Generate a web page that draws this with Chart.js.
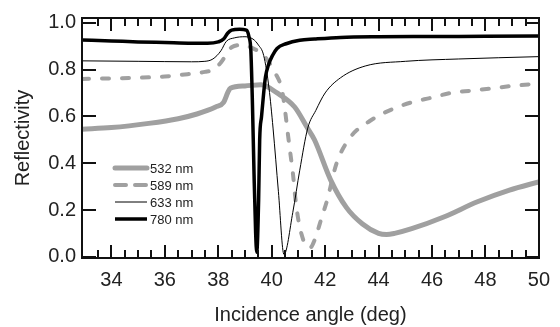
<!DOCTYPE html>
<html>
<head>
<meta charset="utf-8">
<title>Reflectivity vs incidence angle</title>
<script src="https://cdn.jsdelivr.net/npm/chart.js@4.4.0/dist/chart.umd.min.js"></script>
<style>
    html, body { margin: 0; padding: 0; background: #fff; }
    #wrap { width: 560px; height: 327px; }
</style>
</head>
<body>
<div id="wrap"><canvas id="chart" width="560" height="327"></canvas></div>
<script>
// Tick labels
const angleTicks = [34, 36, 38, 40, 42, 44, 46, 48, 50];
const angleMinorTicks = [33.5, 34.5, 35, 35.5, 36.5, 37, 37.5, 38.5, 39, 39.5, 40.5, 41, 41.5, 42.5, 43, 43.5, 44.5, 45, 45.5, 46.5, 47, 47.5, 48.5, 49, 49.5];
const reflTicks = [0, 0.2, 0.4, 0.6, 0.8, 1.0];

// 532 nm (thick grey)
const angle532 = [32.9, 34, 35.4, 36.5, 37.2, 37.9, 38.2, 38.35, 38.45, 39.0, 39.6, 40.2, 40.86, 41.34, 41.6, 42.2, 42.8, 43.4, 44.0, 44.3, 44.6, 45.24, 46.44, 47.7, 48.9, 50];
const refl532 = [0.545, 0.552, 0.57, 0.59, 0.61, 0.64, 0.66, 0.70, 0.72, 0.73, 0.735, 0.70, 0.64, 0.55, 0.50, 0.33, 0.21, 0.14, 0.10, 0.095, 0.10, 0.12, 0.17, 0.235, 0.285, 0.32];

// 589 nm (grey dashed)
const angle589 = [32.9, 34, 35, 36, 36.85, 37.5, 37.83, 38.1, 38.31, 38.5, 38.9, 39.3, 39.66, 39.9, 40.13, 40.39, 40.5, 40.6, 40.7, 40.8, 40.88, 40.98, 41.12, 41.3, 41.45, 41.6, 41.85, 42.07, 42.43, 42.94, 43.67, 44.5, 45.24, 46, 46.7, 47.5, 48.3, 49, 50];
const refl589 = [0.76, 0.762, 0.765, 0.77, 0.78, 0.79, 0.80, 0.83, 0.865, 0.895, 0.905, 0.89, 0.866, 0.83, 0.786, 0.71, 0.625, 0.53, 0.44, 0.35, 0.256, 0.17, 0.095, 0.045, 0.04, 0.07, 0.16, 0.24, 0.40, 0.51, 0.58, 0.63, 0.66, 0.68, 0.70, 0.71, 0.72, 0.73, 0.74];

// 633 nm (thin black)
const angle633 = [32.9, 35, 37, 37.5, 37.8, 38.1, 38.3, 38.6, 39.0, 39.3, 39.5, 39.7, 39.9, 40.05, 40.25, 40.46, 40.79, 41.05, 41.35, 41.65, 42.0, 42.58, 43.5, 45, 47, 50];
const refl633 = [0.837, 0.835, 0.833, 0.835, 0.845, 0.88, 0.92, 0.935, 0.94, 0.93, 0.905, 0.86, 0.72, 0.55, 0.28, 0.01, 0.19, 0.37, 0.55, 0.625, 0.70, 0.765, 0.815, 0.835, 0.845, 0.855];

// 780 nm (thick black)
const angle780 = [32.9, 34, 35, 36, 37, 37.6, 38, 38.2, 38.35, 38.5, 38.8, 39.05, 39.15, 39.22, 39.28, 39.34, 39.4, 39.44, 39.51, 39.55, 39.62, 39.7, 39.77, 39.88, 40.03, 40.2, 40.54, 41.05, 41.6, 42.58, 44, 46, 48, 50];
const refl780 = [0.926, 0.922, 0.918, 0.915, 0.912, 0.912, 0.918, 0.93, 0.955, 0.968, 0.972, 0.968, 0.94, 0.88, 0.65, 0.35, 0.10, 0.02, 0.24, 0.50, 0.60, 0.70, 0.77, 0.82, 0.86, 0.89, 0.91, 0.925, 0.93, 0.937, 0.94, 0.941, 0.942, 0.943];

const FONT = "'Liberation Sans', Arial, Helvetica, sans-serif";
const GREY = '#a0a0a0';

function toPoints(xs, ys) {
    return xs.map((v, i) => ({ x: v, y: ys[i] }));
}

// frame with inward ticks on all four sides
const frameTicks = {
    id: 'frameTicks',
    afterDraw(chart) {
        const c = chart.ctx;
        const a = chart.chartArea;
        const xs = chart.scales.x;
        const ys = chart.scales.y;
        const lw = 2;
        const left = Math.round(a.left) - 1;
        const right = Math.round(a.right) - 1;
        const top = Math.round(a.top) - 1;
        const bottom = Math.round(a.bottom) - 1;

        c.save();
        c.fillStyle = '#111';
        // frame
        c.fillRect(left, top, right - left + lw, lw);
        c.fillRect(left, bottom, right - left + lw, lw);
        c.fillRect(left, top, lw, bottom - top + lw);
        c.fillRect(right, top, lw, bottom - top + lw);

        // x ticks, top and bottom
        const xTick = (v, len) => {
            const px = Math.round(xs.getPixelForValue(v)) - 1;
            c.fillRect(px, bottom - len, lw, len);
            c.fillRect(px, top + lw, lw, len);
        };
        angleTicks.forEach(v => xTick(v, 12));
        angleMinorTicks.forEach(v => xTick(v, 7));

        // y ticks, left and right
        reflTicks.forEach(v => {
            const py = Math.round(ys.getPixelForValue(v)) - 1;
            c.fillRect(left + lw, py, 13, lw);
            c.fillRect(right - 13, py, 13, lw);
        });
        c.restore();
    }
};

// legend drawn inside the plot, lower left
const insideLegend = {
    id: 'insideLegend',
    afterDraw(chart) {
        const c = chart.ctx;
        const rows = [168, 185, 202, 219];
        c.save();
        c.font = '13px ' + FONT;
        c.textBaseline = 'middle';
        c.fillStyle = '#222';
        chart.data.datasets.forEach((ds, i) => {
            const yy = rows[i];
            c.beginPath();
            c.strokeStyle = ds.borderColor;
            c.lineWidth = ds.borderWidth;
            c.lineCap = ds.borderCapStyle || 'butt';
            c.setLineDash(ds.borderDash ? [11, 9] : []);
            c.moveTo(115, yy);
            c.lineTo(147, yy);
            c.stroke();
            c.setLineDash([]);
            c.fillText(ds.label, 150, yy + 1);
        });
        c.restore();
    }
};

const ctx = document.getElementById('chart').getContext('2d');

new Chart(ctx, {
    type: 'line',
    data: {
        datasets: [
            {
                label: '532 nm',
                data: toPoints(angle532, refl532),
                borderColor: GREY,
                borderWidth: 5,
                borderCapStyle: 'round',
                order: 3
            },
            {
                label: '589 nm',
                data: toPoints(angle589, refl589),
                borderColor: GREY,
                borderWidth: 4,
                borderDash: [7, 13],
                borderCapStyle: 'round',
                order: 2
            },
            {
                label: '633 nm',
                data: toPoints(angle633, refl633),
                borderColor: '#000',
                borderWidth: 1,
                order: 1
            },
            {
                label: '780 nm',
                data: toPoints(angle780, refl780),
                borderColor: '#000',
                borderWidth: 3.5,
                order: 0
            }
        ]
    },
    options: {
        responsive: false,
        animation: false,
        devicePixelRatio: 1,
        elements: {
            point: { radius: 0 },
            line: { cubicInterpolationMode: 'monotone', fill: false }
        },
        layout: {
            padding: { left: 0, right: 10, top: 16, bottom: 0 }
        },
        plugins: {
            legend: { display: false },
            tooltip: { enabled: false }
        },
        scales: {
            x: {
                type: 'linear',
                min: 32.9,
                max: 50,
                grid: { display: false, drawTicks: false },
                border: { display: false },
                afterBuildTicks: (scale) => {
                    scale.ticks = angleTicks.map(v => ({ value: v }));
                },
                afterFit: (scale) => { scale.height = 69; },
                ticks: {
                    color: '#222',
                    padding: 10,
                    maxRotation: 0,
                    font: { family: FONT, size: 20 }
                },
                title: {
                    display: true,
                    text: 'Incidence angle (deg)',
                    color: '#222',
                    padding: { top: 0, bottom: 0 },
                    font: { family: FONT, size: 20 }
                }
            },
            y: {
                type: 'linear',
                min: -0.005,
                max: 1.02,
                grid: { display: false, drawTicks: false },
                border: { display: false },
                afterBuildTicks: (scale) => {
                    scale.ticks = reflTicks.map(v => ({ value: v }));
                },
                afterFit: (scale) => { scale.width = 82; },
                ticks: {
                    color: '#222',
                    padding: 6,
                    font: { family: FONT, size: 20 },
                    callback: (v) => v.toFixed(1)
                },
                title: {
                    display: true,
                    text: 'Reflectivity',
                    color: '#222',
                    padding: { top: 11, bottom: 0 },
                    font: { family: FONT, size: 20 }
                }
            }
        }
    },
    plugins: [frameTicks, insideLegend]
});
</script>
</body>
</html>
